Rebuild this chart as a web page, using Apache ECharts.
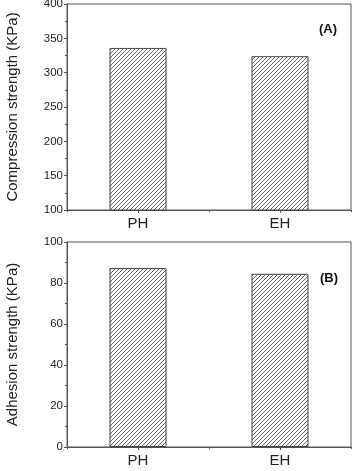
<!DOCTYPE html>
<html><head><meta charset="utf-8">
<script src="https://cdn.jsdelivr.net/npm/echarts@6/dist/echarts.min.js"></script>
<style>html,body{margin:0;padding:0;background:#fff}#c{width:354px;height:471px}</style>
</head><body><div id="c"></div>
<script>
var categories = ['PH', 'EH'];
var compression = [336, 324];
var adhesion = [87.3, 84.5];
var compTicks = {min: 100, max: 400, interval: 50};
var adhTicks = {min: 0, max: 100, interval: 20};

function hatch() {
  var s = 4;
  var c = document.createElement('canvas');
  c.width = s; c.height = s;
  var g = c.getContext('2d');
  g.fillStyle = '#fff'; g.fillRect(0, 0, s, s);
  g.strokeStyle = '#555'; g.lineWidth = 0.9;
  g.beginPath();
  g.moveTo(-1, s + 1); g.lineTo(s + 1, -1);
  g.moveTo(-1, 1); g.lineTo(1, -1);
  g.moveTo(s - 1, s + 1); g.lineTo(s + 1, s - 1);
  g.stroke();
  return c;
}
var pat = {image: hatch(), repeat: 'repeat'};
var font = 'Liberation Sans, Arial, sans-serif';
var axisCol = '#555';

function yAx(idx, t, name) {
  return {
    type: 'value', gridIndex: idx, min: t.min, max: t.max, interval: t.interval,
    name: name, nameLocation: 'middle', nameGap: 47,
    nameTextStyle: {fontFamily: font, fontSize: 15, color: '#222'},
    axisLine: {show: true, lineStyle: {color: axisCol}},
    axisTick: {show: true, length: 3, lineStyle: {color: axisCol}},
    minorTick: {show: true, splitNumber: 2, length: 2, lineStyle: {color: axisCol}},
    axisLabel: {fontFamily: font, fontSize: 11.5, color: '#222', margin: 4},
    splitLine: {show: false}
  };
}
function xAx(idx) {
  return {
    type: 'category', gridIndex: idx, data: categories,
    axisLine: {show: true, lineStyle: {color: axisCol}},
    axisTick: {show: true, alignWithLabel: true, length: 3, lineStyle: {color: axisCol}},
    axisLabel: {fontFamily: font, fontSize: 15, color: '#222', margin: 6}
  };
}
function xAx2(idx) {
  return {
    type: 'category', gridIndex: idx, data: categories, position: 'bottom',
    axisLine: {show: false},
    axisTick: {show: true, interval: 0, length: 2, lineStyle: {color: axisCol}},
    axisLabel: {show: false}
  };
}
var barStyle = {color: pat, borderColor: '#444', borderWidth: 1};

var chart = echarts.init(document.getElementById('c'), null, {renderer: 'canvas'});
chart.setOption({
  animation: false,
  backgroundColor: '#fff',
  grid: [
    {left: 67, right: 3, top: 4, height: 206, show: true, borderColor: axisCol, borderWidth: 1, outerBoundsMode: 'none', containLabel: false},
    {left: 67, right: 3, top: 242, height: 205, show: true, borderColor: axisCol, borderWidth: 1, outerBoundsMode: 'none', containLabel: false}
  ],
  xAxis: [xAx(0), xAx(1), xAx2(0), xAx2(1)],
  yAxis: [yAx(0, compTicks, 'Compression strength (KPa)'), yAx(1, adhTicks, 'Adhesion strength (KPa)')],
  series: [
    {type: 'bar', xAxisIndex: 0, yAxisIndex: 0, data: compression, barWidth: 57, itemStyle: barStyle},
    {type: 'bar', xAxisIndex: 1, yAxisIndex: 1, data: adhesion, barWidth: 57, itemStyle: barStyle}
  ],
  graphic: [
    {type: 'text', left: 319, top: 23, style: {text: '(A)', font: 'bold 13px ' + font, fill: '#111'}},
    {type: 'text', left: 320, top: 272, style: {text: '(B)', font: 'bold 13px ' + font, fill: '#111'}}
  ]
});
</script></body></html>
